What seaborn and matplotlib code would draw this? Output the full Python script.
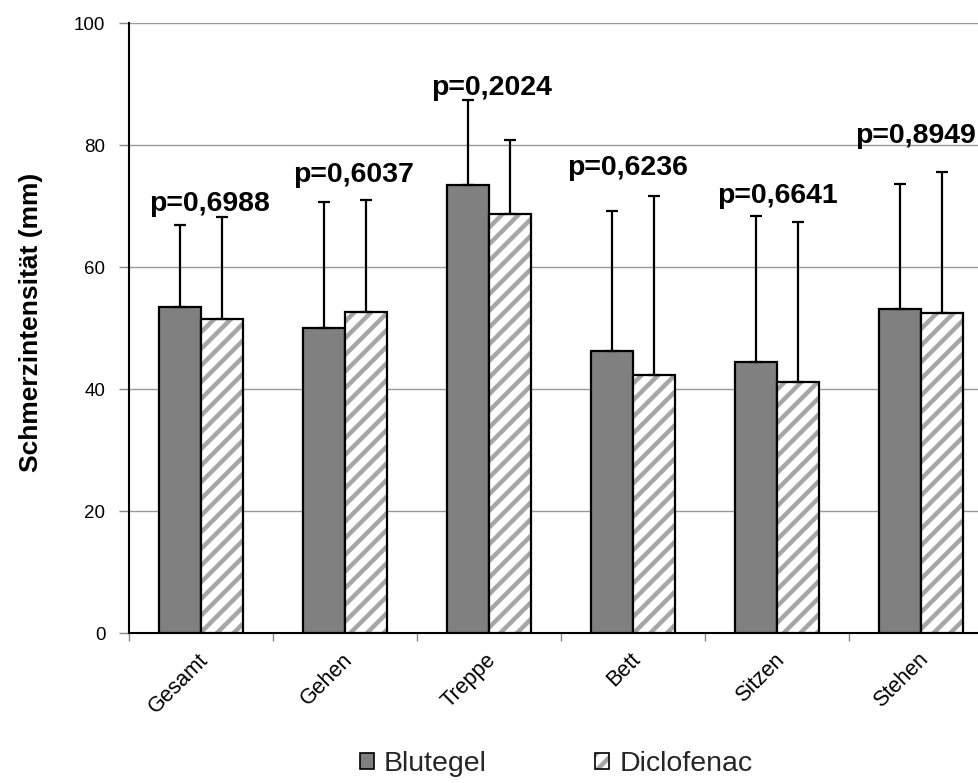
import numpy as np
import pandas as pd
import matplotlib
matplotlib.use("Agg")
import matplotlib.pyplot as plt
import matplotlib.transforms as mtransforms
import seaborn as sns
from matplotlib.patches import Patch, Rectangle
from matplotlib.legend_handler import HandlerTuple

# --- data -------------------------------------------------------------
categories = ["Gesamt", "Gehen", "Treppe", "Bett", "Sitzen", "Stehen"]
groups = ["Blutegel", "Diclofenac"]
blutegel_mean = [53.5, 50.0, 73.4, 46.2, 44.5, 53.1]
blutegel_sd = [13.4, 20.7, 13.9, 23.0, 23.8, 20.5]
diclofenac_mean = [51.5, 52.6, 68.7, 42.3, 41.1, 52.5]
diclofenac_sd = [16.7, 18.4, 12.1, 29.4, 26.2, 23.0]
p_values = ["p=0,6988", "p=0,6037", "p=0,2024", "p=0,6236", "p=0,6641", "p=0,8949"]
y_ticks = [0, 20, 40, 60, 80, 100]

# placement of the p-value annotations (category offset, baseline height)
p_label_dx = [0.056, 0.056, 0.02, -0.04, 0.0, -0.04]
p_label_y = [69.2, 74.0, 88.2, 75.1, 70.5, 80.3]

# --- style ------------------------------------------------------------
sns.set_theme(style="white")
plt.rcParams["font.family"] = ["Liberation Sans", "DejaVu Sans"]
plt.rcParams["hatch.linewidth"] = 3.2

bar_gray = "#808080"
hatch_gray = "#a6a6a6"
grid_gray = "#999999"

df = pd.DataFrame({
    "Kategorie": categories * 2,
    "Gruppe": [groups[0]] * len(categories) + [groups[1]] * len(categories),
    "Wert": blutegel_mean + diclofenac_mean,
})

fig = plt.figure(figsize=(9.79, 7.83), dpi=100)
ax = fig.add_axes([129 / 979, 150 / 783, 864 / 979, 610 / 783])

sns.barplot(
    data=df, x="Kategorie", y="Wert", hue="Gruppe",
    order=categories, hue_order=groups,
    palette={groups[0]: bar_gray, groups[1]: "white"},
    width=0.58, gap=0, edgecolor="black", linewidth=1.6,
    errorbar=None, legend=False, ax=ax, zorder=3,
)

bar_containers = list(ax.containers[:2])

# hatched fill in gray, black outline drawn on top
for bar in bar_containers[1]:
    bar.set_hatch("//")
    bar.set_edgecolor(hatch_gray)
    bar.set_linewidth(0)
    ax.add_patch(Rectangle(bar.get_xy(), bar.get_width(), bar.get_height(),
                           fill=False, edgecolor="black", linewidth=1.6, zorder=4))

# upper standard deviation whiskers
for cont, means, sds in zip(bar_containers,
                            [blutegel_mean, diclofenac_mean],
                            [blutegel_sd, diclofenac_sd]):
    xs = [b.get_x() + b.get_width() / 2 for b in cont]
    ax.errorbar(xs, means, yerr=[np.zeros(len(sds)), sds], fmt="none",
                ecolor="black", elinewidth=1.6, capsize=4, capthick=1.6, zorder=5)

# p-value annotations
for i, (txt, dx, y) in enumerate(zip(p_values, p_label_dx, p_label_y)):
    ax.text(i + dx, y, txt, ha="center", va="baseline",
            fontsize=20.5, fontweight="bold", color="black", zorder=6)

# --- axes -------------------------------------------------------------
ax.set_xlim(-0.5, len(categories) - 0.5)
ax.set_ylim(0, 100)
ax.set_yticks(y_ticks)
ax.set_yticklabels([str(t) for t in y_ticks])
ax.yaxis.grid(True, color=grid_gray, linewidth=1)
ax.xaxis.grid(False)
ax.set_axisbelow(True)

for s in ["top", "right"]:
    ax.spines[s].set_visible(False)
for s in ["left", "bottom"]:
    ax.spines[s].set_color("black")
    ax.spines[s].set_linewidth(1.5)

ax.tick_params(axis="y", which="major", left=True, length=7, width=1,
               color="#888888", direction="out", labelsize=13.5, pad=10,
               labelcolor="black")
ax.set_xticks(np.arange(-0.5, len(categories), 1), minor=True)
ax.tick_params(axis="x", which="minor", bottom=True, length=6, width=1,
               color="#888888", direction="out")
ax.tick_params(axis="x", which="major", bottom=False, length=0,
               labelsize=15.5, pad=17, labelcolor="black")

shift = mtransforms.ScaledTranslation(4 / 100, 0, fig.dpi_scale_trans)
for lbl in ax.get_xticklabels():
    lbl.set_rotation(45)
    lbl.set_ha("right")
    lbl.set_va("center")
    lbl.set_rotation_mode("anchor")
    lbl.set_transform(lbl.get_transform() + shift)

ax.set_xlabel("")
ax.set_ylabel("Schmerzintensität (mm)", fontsize=19, fontweight="bold", color="black")
ax.yaxis.set_label_coords(-0.099, 0.51)

# --- legend -----------------------------------------------------------
h_blut = Patch(facecolor=bar_gray, edgecolor="black", linewidth=1.2)
h_dic_fill = Patch(facecolor="white", edgecolor=hatch_gray, hatch="//", linewidth=0)
h_dic_edge = Patch(facecolor="none", edgecolor="black", linewidth=1.2)
fig.legend(
    [h_blut, (h_dic_fill, h_dic_edge)], groups,
    handler_map={tuple: HandlerTuple(ndivide=1)},
    loc="center", bbox_to_anchor=(556 / 979, 1 - 764 / 783),
    ncol=2, frameon=False, fontsize=20.5,
    handlelength=0.5, handleheight=0.5, handletextpad=0.35, columnspacing=3.8,
)

fig.savefig("out.png", dpi=100)
